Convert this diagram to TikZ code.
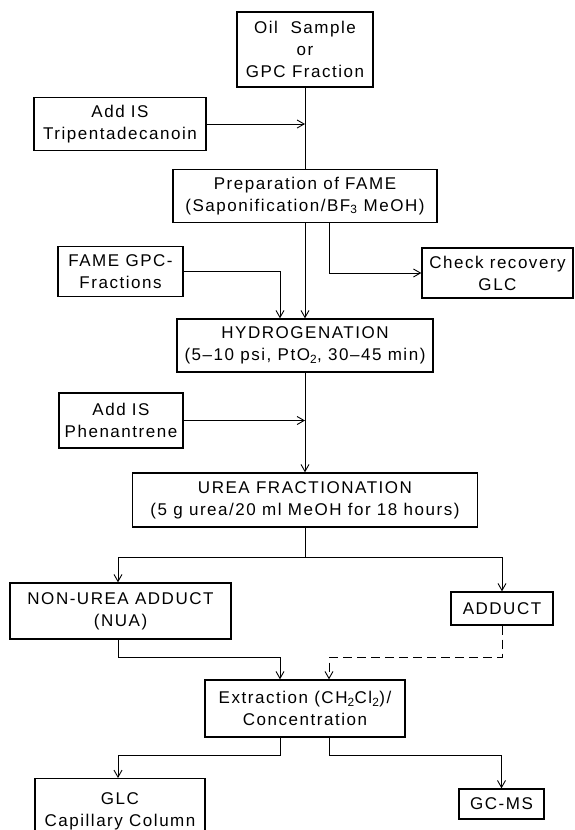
\documentclass[tikz,border=0pt]{standalone}
\usepackage{fontspec}
\setmainfont{Liberation Sans}[LetterSpace=9]
\usetikzlibrary{arrows.meta}
\tikzset{
  box/.style={draw, line width=1.3pt, align=center, inner sep=2pt,
    font=\fontsize{17}{22}\selectfont},
  link/.style={line width=0.9pt},
  arr/.style={link, -{Straight Barb[length=7pt,width=8pt]}},
}

\begin{document}
\begin{tikzpicture}[x=1pt,y=-1pt]
            \useasboundingbox (0,0) rectangle (575,830);
            % main column
            \node[box, minimum width=136, minimum height=75] (oil) at (305,49.5) {Oil~~Sample\\or\\GPC Fraction};
            \node[box, minimum width=264, minimum height=53] (fame) at (305,196) {Preparation of FAME\\(Saponification/BF\textsubscript{3} MeOH)};
            \node[box, minimum width=256, minimum height=53] (hydro) at (305,345.5) {HYDROGENATION\\(5--10 psi, PtO\textsubscript{2}, 30--45 min)};
            \node[box, minimum width=345, minimum height=54] (urea) at (305,500) {UREA FRACTIONATION\\(5 g urea/20 ml MeOH for 18 hours)};
            \node[box, minimum width=200, minimum height=57] (extr) at (305,708.5) {Extraction (CH\textsubscript{2}Cl\textsubscript{2})/\\Concentration};
            % side boxes
            \node[box, minimum width=172, minimum height=53] (tripen) at (120,124) {Add IS\\Tripentadecanoin};
            \node[box, minimum width=125, minimum height=50] (fgpc) at (120.5,271.5) {FAME GPC-\\Fractions};
            \node[box, minimum width=151, minimum height=50] (check) at (497.5,273) {Check recovery\\GLC};
            \node[box, minimum width=124, minimum height=55] (phen) at (121,420.5) {Add IS\\Phenantrene};
            \node[box, minimum width=221, minimum height=56] (nua) at (120.5,611) {NON-UREA ADDUCT\\(NUA)};
            \node[box, minimum width=102, minimum height=33] (adduct) at (502,608.5) {ADDUCT};
            \node[box, minimum width=170, inner ysep=14pt, anchor=north] (glc) at (120,778) {GLC\\Capillary Column};
            \node[box, minimum width=85, minimum height=30] (gcms) at (501.5,804) {GC-MS};
            % connectors
            \draw[link] (oil.south) -- (fame.north);
            \draw[arr] (tripen.east) -- (tripen.east -| oil.south);
            \draw[arr] (fame.south) -- (hydro.north);
            \draw[arr] ([xshift=24pt]fame.south) |- (check.west);
            \draw[arr] (fgpc.east) -| ([xshift=-25pt]hydro.north);
            \draw[arr] (hydro.south) -- (urea.north);
            \draw[arr] (phen.east) -- (phen.east -| hydro.south);
            \coordinate (split) at (305,557);
            \draw[link] (urea.south) -- (split);
            \draw[arr] (split) -| ([xshift=-2.5pt]nua.north);
            \draw[arr] (split) -| (adduct.north);
            \draw[arr] ([xshift=-2.5pt]nua.south) -- ++(0,18) -| ([xshift=-25pt]extr.north);
            \draw[arr, dash pattern=on 9pt off 5pt] (adduct.south) -- ++(0,31.5) -| ([xshift=24pt]extr.north);
            \draw[arr] ([xshift=-25pt]extr.south) -- ++(0,18) -| ([xshift=-2pt]glc.north);
            \draw[arr] ([xshift=24pt]extr.south) -- ++(0,18) -| (gcms.north);
        \end{tikzpicture}
\end{document}
